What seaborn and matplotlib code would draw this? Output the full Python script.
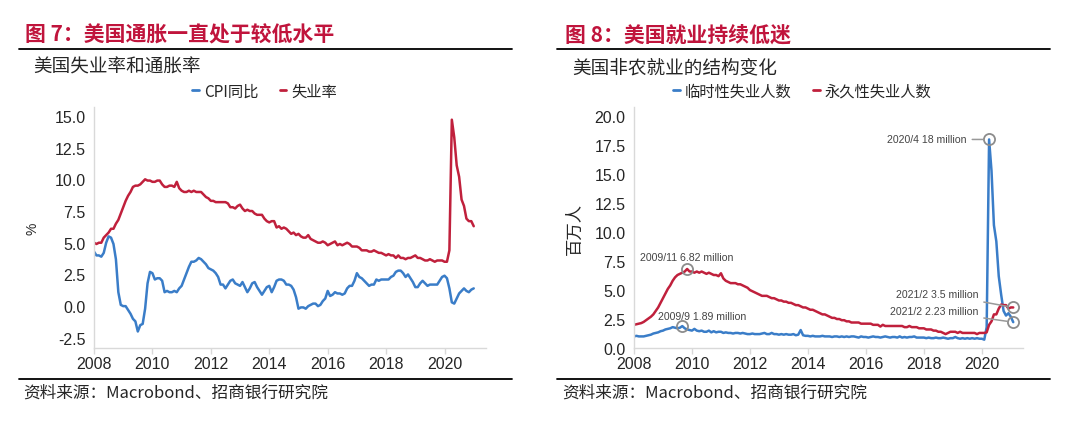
import numpy as np
import pandas as pd
import matplotlib
matplotlib.use("Agg")
import matplotlib.pyplot as plt
import seaborn as sns

# ---------------- data ----------------
# Left: monthly, 2008/1 - 2021/1
cpi_yoy = [
    4.3, 4.0, 4.0, 3.9, 4.2, 5.0, 5.5, 5.4, 4.9, 3.7, 1.1, 0.1,
    0.0, 0.0, -0.3, -0.6, -1.0, -1.2, -2.0, -1.5, -1.4, -0.2, 1.8, 2.7,
    2.6, 2.1, 2.2, 2.2, 2.0, 1.1, 1.2, 1.1, 1.1, 1.2, 1.1, 1.4,
    1.6, 2.1, 2.6, 3.1, 3.5, 3.5, 3.6, 3.8, 3.7, 3.5, 3.3, 3.0,
    2.9, 2.8, 2.6, 2.3, 1.7, 1.7, 1.4, 1.7, 2.0, 2.1, 1.8, 1.7,
    1.6, 1.9, 1.5, 1.1, 1.4, 1.8, 1.9, 1.5, 1.2, 0.9, 1.2, 1.5,
    1.6, 1.1, 1.5, 2.0, 2.1, 2.1, 2.0, 1.7, 1.7, 1.6, 1.3, 0.7,
    -0.2, -0.1, -0.1, -0.2, 0.0, 0.1, 0.2, 0.2, 0.0, 0.1, 0.4, 0.6,
    1.2, 0.8, 0.9, 1.1, 1.0, 1.0, 0.9, 1.0, 1.4, 1.6, 1.6, 2.0,
    2.6, 2.3, 2.2, 2.0, 1.8, 1.6, 1.7, 1.7, 2.1, 2.0, 2.1, 2.1,
    2.1, 2.1, 2.3, 2.4, 2.7, 2.8, 2.8, 2.6, 2.3, 2.5, 2.2, 1.9,
    1.5, 1.5, 1.8, 2.0, 1.8, 1.6, 1.7, 1.7, 1.7, 1.7, 2.0, 2.3,
    2.4, 2.2, 1.4, 0.3, 0.2, 0.6, 1.0, 1.2, 1.4, 1.2, 1.1, 1.3,
    1.4,
]
unemp_rate = [
    5.0, 4.9, 5.0, 5.0, 5.4, 5.6, 5.8, 6.1, 6.1, 6.5, 6.8, 7.3,
    7.8, 8.3, 8.7, 9.0, 9.4, 9.5, 9.5, 9.6, 9.8, 10.0, 9.9, 9.9,
    9.8, 9.8, 9.9, 9.9, 9.6, 9.4, 9.4, 9.5, 9.5, 9.4, 9.8, 9.3,
    9.1, 9.0, 9.0, 9.1, 9.0, 9.1, 9.0, 9.0, 9.0, 8.8, 8.6, 8.5,
    8.3, 8.3, 8.2, 8.2, 8.2, 8.2, 8.2, 8.1, 7.8, 7.8, 7.7, 7.9,
    8.0, 7.7, 7.5, 7.6, 7.5, 7.5, 7.3, 7.2, 7.2, 7.2, 6.9, 6.7,
    6.6, 6.7, 6.7, 6.2, 6.3, 6.1, 6.2, 6.1, 5.9, 5.7, 5.8, 5.6,
    5.7, 5.5, 5.4, 5.4, 5.6, 5.3, 5.2, 5.1, 5.0, 5.0, 5.1, 5.0,
    4.8, 4.9, 5.0, 5.1, 4.8, 4.9, 4.8, 4.9, 5.0, 4.9, 4.7, 4.7,
    4.7, 4.6, 4.4, 4.4, 4.4, 4.3, 4.3, 4.4, 4.3, 4.2, 4.2, 4.1,
    4.0, 4.1, 4.0, 4.0, 3.8, 4.0, 3.8, 3.8, 3.7, 3.8, 3.8, 3.9,
    4.0, 3.8, 3.8, 3.7, 3.6, 3.6, 3.7, 3.6, 3.5, 3.6, 3.6, 3.6,
    3.5, 3.5, 4.4, 14.7, 13.3, 11.1, 10.2, 8.4, 7.9, 6.9, 6.7, 6.7,
    6.3,
]
# Right: monthly, 2008/1 - 2021/2 (millions)
temp_layoff = [
    1.0, 1.05, 1.0, 1.0, 1.0, 1.05, 1.1, 1.15, 1.25, 1.3, 1.35, 1.45,
    1.5, 1.6, 1.65, 1.7, 1.8, 1.75, 1.7, 1.75, 1.89, 1.7, 1.6, 1.55,
    1.5, 1.65, 1.5, 1.45, 1.5, 1.4, 1.4, 1.5, 1.35, 1.45, 1.35, 1.4,
    1.4, 1.3, 1.35, 1.3, 1.3, 1.25, 1.3, 1.3, 1.25, 1.3, 1.25, 1.2,
    1.2, 1.25, 1.2, 1.2, 1.2, 1.25, 1.3, 1.2, 1.2, 1.3, 1.2, 1.2,
    1.15, 1.2, 1.15, 1.2, 1.15, 1.15, 1.2, 1.1, 1.15, 1.55, 1.1, 1.05,
    1.05, 1.0, 1.05, 1.0, 1.0, 1.0, 1.05, 1.0, 1.0, 1.0, 0.95, 1.0,
    1.0, 0.95, 1.0, 0.95, 1.0, 0.95, 1.0, 1.0, 0.95, 0.9, 1.0, 0.95,
    0.95, 0.9, 0.95, 1.0, 0.95, 0.95, 0.9, 0.95, 1.0, 0.95, 0.9, 0.95,
    0.95, 0.9, 1.0, 0.9, 0.95, 0.9, 0.95, 0.95, 1.0, 0.9, 0.9, 0.9,
    0.9, 0.85, 0.9, 0.85, 0.85, 0.9, 0.85, 0.85, 0.9, 0.85, 0.8, 0.85,
    0.85, 0.95, 0.85, 0.8, 0.85, 0.8, 0.85, 0.8, 0.85, 0.8, 0.85, 0.8,
    0.8, 0.72, 1.8, 18.0, 15.3, 10.6, 9.2, 6.2, 4.6, 3.2, 2.8, 3.0,
    2.7, 2.23,
]
perm_loss = [
    2.0, 2.05, 2.1, 2.15, 2.25, 2.4, 2.55, 2.7, 2.9, 3.2, 3.5, 3.9,
    4.3, 4.7, 5.1, 5.4, 5.8, 6.1, 6.3, 6.4, 6.5, 6.6, 6.82, 6.6,
    6.6, 6.5, 6.6, 6.5, 6.6, 6.5, 6.4, 6.5, 6.4, 6.3, 6.3, 6.2,
    6.45, 6.0, 5.8, 5.7, 5.6, 5.6, 5.6, 5.5, 5.5, 5.4, 5.3, 5.2,
    5.0, 4.9, 4.8, 4.7, 4.6, 4.5, 4.5, 4.5, 4.4, 4.3, 4.3, 4.2,
    4.1, 4.1, 4.0, 4.0, 3.9, 3.9, 3.8, 3.7, 3.7, 3.6, 3.5, 3.5,
    3.4, 3.3, 3.3, 3.2, 3.1, 3.0, 2.9, 2.9, 2.8, 2.7, 2.6, 2.6,
    2.5, 2.5, 2.4, 2.4, 2.3, 2.3, 2.2, 2.2, 2.2, 2.2, 2.1, 2.1,
    2.1, 2.1, 2.1, 2.0, 2.0, 2.0, 1.85, 2.0, 1.9, 1.9, 1.9, 1.9,
    1.9, 1.9, 1.9, 1.9, 1.8, 1.8, 1.9, 1.8, 1.8, 1.8, 1.7, 1.7,
    1.7, 1.6, 1.6, 1.6, 1.5, 1.5, 1.4, 1.4, 1.3, 1.2, 1.3, 1.4,
    1.4, 1.4, 1.3, 1.4, 1.3, 1.3, 1.3, 1.3, 1.3, 1.3, 1.2, 1.3,
    1.3, 1.3, 1.35, 2.0, 2.3, 2.9, 2.9, 3.4, 3.75, 3.7, 3.7, 3.4,
    3.5, 3.5,
]
x_ticks = [2008, 2010, 2012, 2014, 2016, 2018, 2020]
y_ticks_left = [-2.5, 0.0, 2.5, 5.0, 7.5, 10.0, 12.5, 15.0]
y_ticks_right = [0.0, 2.5, 5.0, 7.5, 10.0, 12.5, 15.0, 17.5, 20.0]

t_left = 2008 + np.arange(len(cpi_yoy)) / 12.0
t_right = 2008 + np.arange(len(temp_layoff)) / 12.0

df_left = pd.DataFrame({"t": t_left, "cpi": cpi_yoy, "unemp": unemp_rate})
df_right = pd.DataFrame({"t": t_right, "temp": temp_layoff, "perm": perm_loss})

# ---------------- style ----------------
sns.set_theme(style="white")
CJK = ["Noto Sans CJK SC", "DejaVu Sans"]
LAT = ["Liberation Sans", "DejaVu Sans"]
plt.rcParams["font.family"] = CJK

BLUE = "#3a7dc8"
RED = "#c0203c"
TITLE_RED = "#c0143c"
SPINE = "#d9d9d9"
TXT = "#262626"

fig = plt.figure(figsize=(10.8, 4.35), dpi=100)
axL = fig.add_axes([94 / 1080, 1 - 349 / 435, 392 / 1080, 241 / 435])
axR = fig.add_axes([634 / 1080, 1 - 349 / 435, 389 / 1080, 241 / 435])

sns.lineplot(data=df_left, x="t", y="cpi", ax=axL, color=BLUE, linewidth=1.8, label="CPI同比")
sns.lineplot(data=df_left, x="t", y="unemp", ax=axL, color=RED, linewidth=1.8, label="失业率")
sns.lineplot(data=df_right, x="t", y="temp", ax=axR, color=BLUE, linewidth=1.8, label="临时性失业人数")
sns.lineplot(data=df_right, x="t", y="perm", ax=axR, color=RED, linewidth=1.8, label="永久性失业人数")

for ax, yt, ylim, lx in [(axL, y_ticks_left, (-3.3, 15.7), 0.435),
                         (axR, y_ticks_right, (0, 20.8), 0.432)]:
    ax.set_xlim(2008, 2021.42)
    ax.set_ylim(*ylim)
    ax.set_xticks(x_ticks)
    ax.set_xticklabels([str(v) for v in x_ticks], family=LAT, fontsize=11.5, color=TXT)
    ax.set_yticks(yt)
    ax.set_yticklabels([f"{v:.1f}" for v in yt], family=LAT, fontsize=11.5, color=TXT)
    ax.set_xlabel("")
    for s in ["top", "right"]:
        ax.spines[s].set_visible(False)
    for s in ["left", "bottom"]:
        ax.spines[s].set_color(SPINE)
        ax.spines[s].set_linewidth(1.0)
    ax.tick_params(axis="x", which="major", bottom=True, length=4, width=1, color=SPINE, pad=2)
    ax.tick_params(axis="y", which="major", left=False, length=0, pad=6)
    ax.grid(False)
    ax.set_facecolor("white")
    leg = ax.legend(loc="center", bbox_to_anchor=(lx, 1.066), ncol=2, frameon=False,
                    handlelength=0.45, handletextpad=0.3, columnspacing=1.4,
                    prop={"family": CJK, "size": 11})
    for line in leg.get_lines():
        line.set_linewidth(2.0)
    for txt in leg.get_texts():
        txt.set_color(TXT)

axL.set_ylabel("%", fontsize=10, color=TXT, family=LAT)
axL.yaxis.set_label_coords(-0.138, 0.5)
axR.set_ylabel("百万人", fontsize=12.5, color=TXT)
axR.yaxis.set_label_coords(-0.128, 0.5)

# ---------------- annotations (right chart) ----------------
ann_color = "#444444"
circ_kw = dict(marker="o", markersize=8, markerfacecolor="none",
               markeredgecolor="#8c8c8c", markeredgewidth=1.3, linestyle="none", zorder=5)
ann_pts = [
    (2020 + 3 / 12, 18.0, "2020/4 18 million", (-16, 0), "right", True),
    (2009 + 10 / 12, 6.82, "2009/11 6.82 million", (0, 8.5), "center", False),
    (2009 + 8 / 12, 1.89, "2009/9 1.89 million", (14, 7.5), "center", False),
    (2021 + 1 / 12, 3.5, "2021/2 3.5 million", (-25, 10), "right", True),
    (2021 + 1 / 12, 2.23, "2021/2 2.23 million", (-25, 8), "right", True),
]
for xv, yv, lab, off, ha, conn in ann_pts:
    axR.plot([xv], [yv], **circ_kw)
    kw = dict(xy=(xv, yv), xytext=off, textcoords="offset points", ha=ha, va="center",
              fontsize=7.6, color=ann_color, family=LAT, zorder=6)
    if conn:
        kw["arrowprops"] = dict(arrowstyle="-", color="#999999", lw=1.1, shrinkA=1.5, shrinkB=4.5)
    axR.annotate(lab, **kw)

# ---------------- figure texts ----------------
fig.text(25 / 1080, 1 - 35 / 435, "图 7：美国通胀一直处于较低水平", color=TITLE_RED,
         fontsize=15, fontweight="bold", va="center", ha="left")
fig.text(565 / 1080, 1 - 35 / 435, "图 8：美国就业持续低迷", color=TITLE_RED,
         fontsize=15, fontweight="bold", va="center", ha="left")
fig.text(33 / 1080, 1 - 68 / 435, "美国失业率和通胀率", color=TXT, fontsize=13.4, va="center", ha="left")
fig.text(572 / 1080, 1 - 68 / 435, "美国非农就业的结构变化", color=TXT, fontsize=13.4, va="center", ha="left")
fig.text(23 / 1080, 1 - 393 / 435, "资料来源：Macrobond、招商银行研究院", color=TXT, fontsize=12,
         va="center", ha="left")
fig.text(562 / 1080, 1 - 393 / 435, "资料来源：Macrobond、招商银行研究院", color=TXT, fontsize=12,
         va="center", ha="left")

for x0, x1 in [(19, 512), (557, 1050)]:
    for yy in (50, 380):
        fig.add_artist(plt.Line2D([x0 / 1080, x1 / 1080], [1 - yy / 435, 1 - yy / 435],
                                  color="black", linewidth=1.3, transform=fig.transFigure))

fig.savefig("out.png", dpi=100, facecolor="white")
